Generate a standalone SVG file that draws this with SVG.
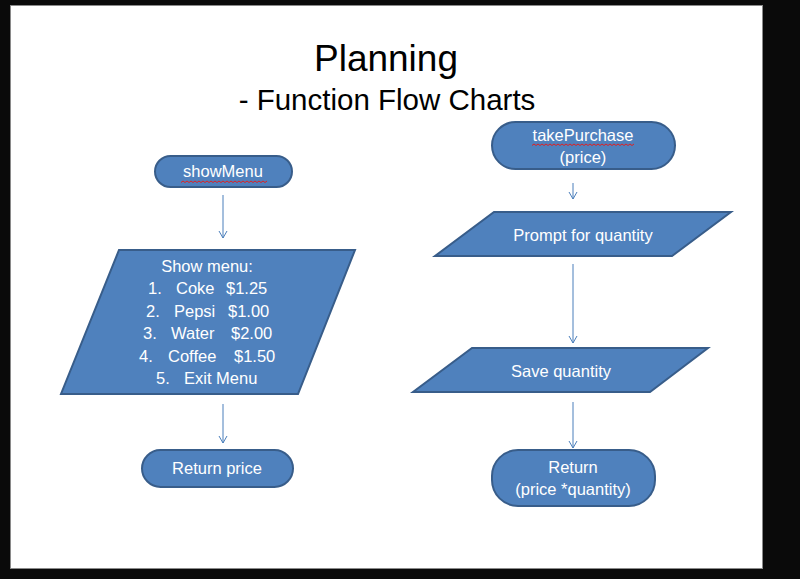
<svg xmlns="http://www.w3.org/2000/svg" width="800" height="579" viewBox="0 0 800 579">
<defs>
<marker id="arr" markerWidth="10" markerHeight="10" refX="9" refY="5" orient="auto" markerUnits="userSpaceOnUse" viewBox="0 0 10 10">
<path d="M2,1 L9,5 L2,9" fill="none" stroke="#4A7EBB" stroke-width="1"/>
</marker>
<style>
.shape{fill:#4F81BD;stroke:#385D8A;stroke-width:2}
.t{font-family:"Liberation Sans",Arial,sans-serif;font-size:16.5px;fill:#fff}
.c{text-anchor:middle}
.conn line{stroke:#4A7EBB;stroke-width:1;marker-end:url(#arr)}
.wavy{fill:none;stroke:#e02020;stroke-width:1}
.title{font-family:"Liberation Sans",Arial,sans-serif;fill:#000;text-anchor:middle}
</style>
</defs>
<rect x="0" y="0" width="800" height="579" fill="#0a0a0a"/>
<rect x="10.5" y="5.5" width="752" height="563" fill="#fff" stroke="#8a8a8a" stroke-width="1"/>
<g id="title">
<text class="title" x="386" y="71" font-size="37">Planning</text>
<text class="title" x="387" y="110" font-size="29.5">- Function Flow Charts</text>
</g>
<g class="conn" id="connectors">
<line x1="223" y1="195" x2="223" y2="238"/>
<line x1="223" y1="404" x2="223" y2="443"/>
<line x1="573" y1="183" x2="573" y2="199"/>
<line x1="573" y1="264" x2="573" y2="343"/>
<line x1="573" y1="402" x2="573" y2="448"/>
</g>
<g id="showMenu">
<rect class="shape" x="155" y="156" width="137" height="31" rx="15.5"/>
<text class="t c" x="223" y="177">showMenu</text>
<path class="wavy" d="M181,182.5 l2,-1.5 l2,1.5 l2,-1.5 l2,1.5 l2,-1.5 l2,1.5 l2,-1.5 l2,1.5 l2,-1.5 l2,1.5 l2,-1.5 l2,1.5 l2,-1.5 l2,1.5 l2,-1.5 l2,1.5 l2,-1.5 l2,1.5 l2,-1.5 l2,1.5 l2,-1.5 l2,1.5 l2,-1.5 l2,1.5 l2,-1.5 l2,1.5 l2,-1.5 l2,1.5 l2,-1.5 l2,1.5 l2,-1.5 l2,1.5 l2,-1.5 l2,1.5 l2,-1.5 l2,1.5 l2,-1.5 l2,1.5 l2,-1.5 l2,1.5 l2,-1.5 l2,1.5 l2,-1.5"/>
</g>
<g id="showMenuBox">
<polygon class="shape" points="119,250 355,250 298,394 61,394"/>
<text class="t c" x="207" y="272">Show menu:</text>
<text class="t" x="148" y="294">1.</text><text class="t" x="176" y="294">Coke</text><text class="t" x="226" y="294">$1.25</text>
<text class="t" x="146" y="317">2.</text><text class="t" x="174" y="317">Pepsi</text><text class="t" x="228" y="317">$1.00</text>
<text class="t" x="143" y="339">3.</text><text class="t" x="171" y="339">Water</text><text class="t" x="231" y="339">$2.00</text>
<text class="t" x="139" y="362">4.</text><text class="t" x="168" y="362">Coffee</text><text class="t" x="234" y="362">$1.50</text>
<text class="t" x="156" y="384">5.</text><text class="t" x="184" y="384">Exit Menu</text>
</g>
<g id="returnPrice">
<rect class="shape" x="142" y="450" width="151" height="37" rx="18.5"/>
<text class="t c" x="217" y="474">Return price</text>
</g>
<g id="takePurchase">
<rect class="shape" x="492" y="122" width="183" height="47" rx="23.5"/>
<text class="t c" x="583" y="141">takePurchase</text>
<text class="t c" x="583" y="163">(price)</text>
<path class="wavy" d="M532,145.5 l2,-1.5 l2,1.5 l2,-1.5 l2,1.5 l2,-1.5 l2,1.5 l2,-1.5 l2,1.5 l2,-1.5 l2,1.5 l2,-1.5 l2,1.5 l2,-1.5 l2,1.5 l2,-1.5 l2,1.5 l2,-1.5 l2,1.5 l2,-1.5 l2,1.5 l2,-1.5 l2,1.5 l2,-1.5 l2,1.5 l2,-1.5 l2,1.5 l2,-1.5 l2,1.5 l2,-1.5 l2,1.5 l2,-1.5 l2,1.5 l2,-1.5 l2,1.5 l2,-1.5 l2,1.5 l2,-1.5 l2,1.5 l2,-1.5 l2,1.5 l2,-1.5 l2,1.5 l2,-1.5 l2,1.5 l2,-1.5 l2,1.5 l2,-1.5 l2,1.5 l2,-1.5 l2,1.5 l2,-1.5"/>
</g>
<g id="prompt">
<polygon class="shape" points="494,212 731,212 672,256 435,256"/>
<text class="t c" x="583" y="241">Prompt for quantity</text>
</g>
<g id="save">
<polygon class="shape" points="472,348 708,348 650,392 413,392"/>
<text class="t c" x="561" y="377">Save quantity</text>
</g>
<g id="returnTotal">
<rect class="shape" x="492" y="450" width="163" height="56" rx="26"/>
<text class="t c" x="573" y="473">Return</text>
<text class="t c" x="573" y="495">(price *quantity)</text>
</g>
</svg>
